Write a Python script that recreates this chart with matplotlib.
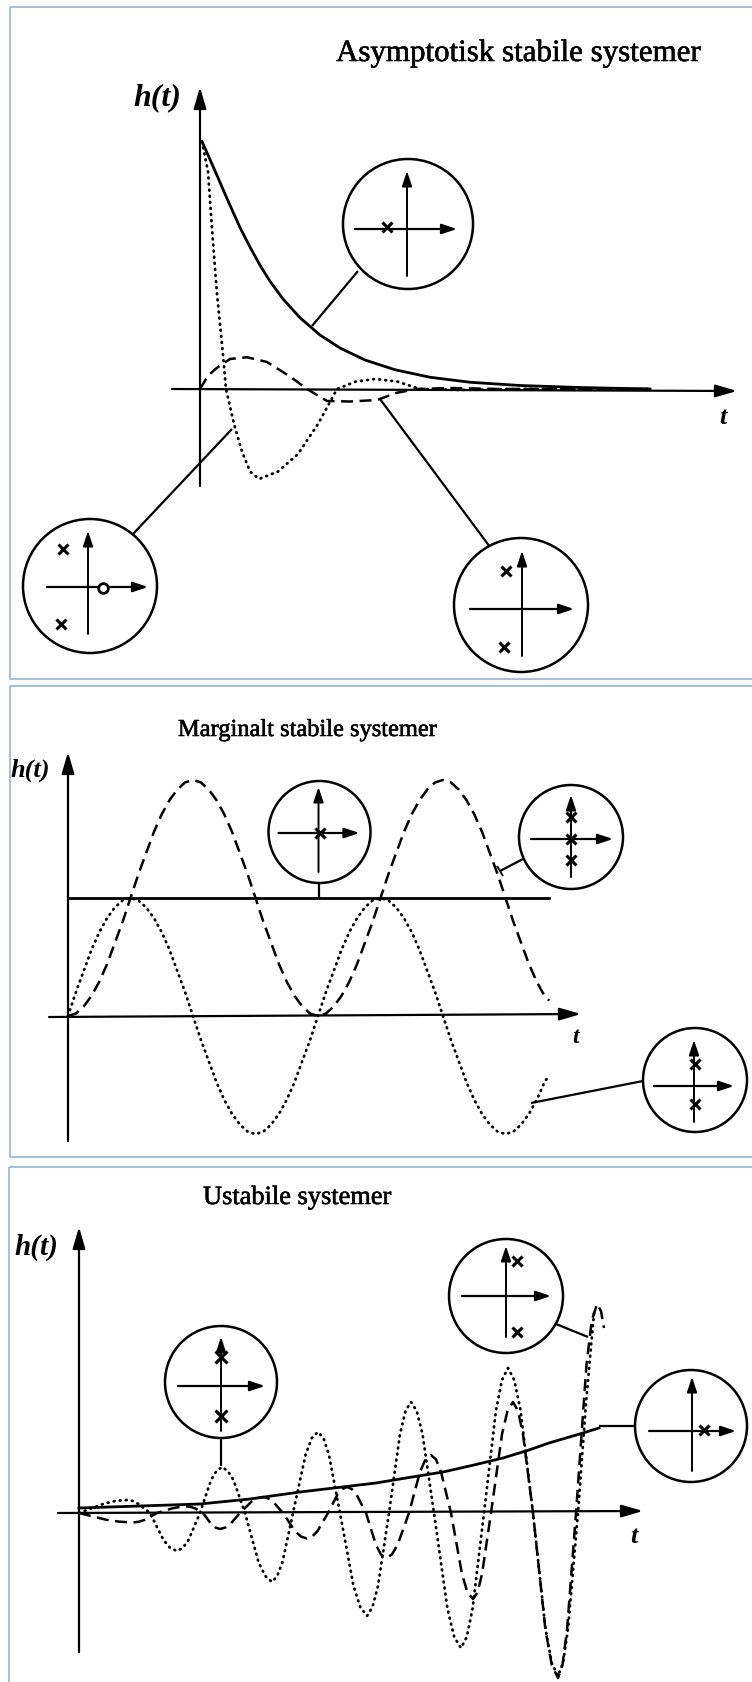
import matplotlib
matplotlib.use("Agg")
import matplotlib.pyplot as plt
import matplotlib.patheffects as pe
from matplotlib.patches import Circle, Rectangle

plt.rcParams['font.family'] = ['Liberation Serif', 'DejaVu Serif']

# --- asymptotically stable: t in units of 50 px, h normalised to peak ---
asym_t_solid = [0.04, 0.2, 0.36, 0.5, 0.66, 0.8, 1.0, 1.2, 1.4, 1.66, 2.0, 2.4,
                2.8, 3.3, 3.9, 4.6, 5.4, 6.4, 7.6, 9.0]
asym_h_solid = [0.99, 0.918, 0.845, 0.78, 0.708, 0.646, 0.568, 0.495, 0.431,
                0.360, 0.285, 0.216, 0.164, 0.116, 0.077, 0.047, 0.027, 0.014,
                0.006, 0.0]
asym_t_dot = [0.04, 0.16, 0.24, 0.34, 0.44, 0.52, 0.68, 0.84, 1.0, 1.18, 1.56,
              1.96, 2.36, 2.74, 3.12, 3.5, 3.94, 4.4, 5.2, 6.4, 9.0]
asym_h_dot = [0.99, 0.87, 0.64, 0.38, 0.18, 0.0, -0.14, -0.25, -0.33, -0.36, -0.33,
              -0.26, -0.14, 0.0, 0.03, 0.04, 0.03, 0.0, -0.004, 0.0, 0.0]
asym_t_dash = [0, 0.16, 0.34, 0.6, 0.94, 1.34, 1.8, 2.14, 2.54, 3.0, 3.54, 3.94,
               4.34, 5.0, 6.0, 9.0]
asym_h_dash = [0, 0.053, 0.085, 0.12, 0.127, 0.108, 0.05, 0.0, -0.048, -0.05,
               -0.044, -0.015, 0.0, 0.004, 0.0, 0.0]

# --- marginally stable: period = 8 units, h in units of the step level ---
marg_t = [0, 0.25, 0.5, 0.75, 1, 1.25, 1.5, 1.75, 2, 2.25, 2.5, 2.75, 3, 3.25,
          3.5, 3.75, 4, 4.25, 4.5, 4.75, 5, 5.25, 5.5, 5.75, 6, 6.25, 6.5, 6.75,
          7, 7.25, 7.5, 7.75, 8, 8.25, 8.5, 8.75, 9, 9.25, 9.5, 9.75, 10, 10.25,
          10.5, 10.75, 11, 11.25, 11.5, 11.75, 12, 12.25, 12.5, 12.75, 13, 13.25,
          13.5, 13.75, 14, 14.25, 14.5, 14.75, 15, 15.25, 15.4]
marg_h_dot = [0, 0.20, 0.38, 0.56, 0.71, 0.83, 0.92, 0.98, 1.0, 0.98, 0.92, 0.83,
              0.71, 0.56, 0.38, 0.20, 0, -0.20, -0.38, -0.56, -0.71, -0.83, -0.92,
              -0.98, -1.0, -0.98, -0.92, -0.83, -0.71, -0.56, -0.38, -0.20, 0,
              0.20, 0.38, 0.56, 0.71, 0.83, 0.92, 0.98, 1.0, 0.98, 0.92, 0.83,
              0.71, 0.56, 0.38, 0.20, 0, -0.20, -0.38, -0.56, -0.71, -0.83, -0.92,
              -0.98, -1.0, -0.98, -0.92, -0.83, -0.71, -0.56, -0.50]
marg_h_dash = [0, 0.02, 0.08, 0.17, 0.29, 0.44, 0.62, 0.80, 1.0, 1.20, 1.38, 1.56,
               1.71, 1.83, 1.92, 1.98, 2.0, 1.98, 1.92, 1.83, 1.71, 1.56, 1.38,
               1.20, 1.0, 0.80, 0.62, 0.44, 0.29, 0.17, 0.08, 0.02, 0, 0.02, 0.08,
               0.17, 0.29, 0.44, 0.62, 0.80, 1.0, 1.20, 1.38, 1.56, 1.71, 1.83,
               1.92, 1.98, 2.0, 1.98, 1.92, 1.83, 1.71, 1.56, 1.38, 1.20, 1.0,
               0.80, 0.62, 0.44, 0.29, 0.17, 0.13]
marg_h_step = [1.0] * len(marg_t)

# --- unstable: t in units of 50 px, h in units of 100 px ---
unst_t_solid = [0, 1.22, 2.42, 3.42, 4.42, 5.94, 6.6, 7.28, 7.9, 8.48, 9.0, 9.4,
                10.08, 10.4]
unst_h_solid = [0.05, 0.07, 0.09, 0.14, 0.21, 0.30, 0.355, 0.41, 0.48, 0.55, 0.63,
                0.70, 0.80, 0.85]
unst_t_dot = [0, 0.48, 0.72, 0.96, 1.075, 1.19, 1.42,
              1.69, 1.825, 1.96, 2.075, 2.19, 2.42,
              2.64, 2.75, 2.86, 2.975, 3.09, 3.32,
              3.59, 3.725, 3.86, 3.965, 4.07, 4.28,
              4.53, 4.655, 4.78, 4.89, 5.0, 5.22,
              5.49, 5.625, 5.76, 5.87, 5.98, 6.2,
              6.42, 6.53, 6.64, 6.755, 6.87, 7.1,
              7.37, 7.505, 7.64, 7.755, 7.87, 8.1,
              8.34, 8.46, 8.58, 8.705, 8.83, 9.08,
              9.33, 9.455, 9.58, 9.68, 9.78, 9.98,
              10.14, 10.3]
unst_h_dot = [0, 0.09, 0.12, 0.13, 0.12, 0.09, 0,
              -0.27, -0.35, -0.38, -0.35, -0.27, 0,
              0.33, 0.42, 0.46, 0.42, 0.33, 0,
              -0.49, -0.63, -0.69, -0.63, -0.49, 0,
              0.58, 0.75, 0.81, 0.75, 0.58, 0,
              -0.73, -0.94, -1.03, -0.94, -0.73, 0,
              0.79, 1.02, 1.11, 1.02, 0.79, 0,
              -0.96, -1.24, -1.35, -1.24, -0.96, 0,
              1.03, 1.33, 1.45, 1.33, 1.03, 0,
              -1.16, -1.50, -1.63, -1.50, -1.16, 0,
              1.10, 2.0]
unst_t_dash = [0, 0.54, 0.81, 1.08, 1.2, 1.32, 1.56,
               1.86, 2.01, 2.16, 2.24, 2.32, 2.48,
               2.65, 2.735, 2.82, 2.92, 3.02, 3.22,
               3.45, 3.565, 3.68, 3.78, 3.88, 4.08,
               4.32, 4.44, 4.56, 4.665, 4.77, 4.98,
               5.17, 5.265, 5.36, 5.455, 5.55, 5.74,
               5.94, 6.04, 6.14, 6.255, 6.37, 6.6,
               6.82, 6.93, 7.04, 7.14, 7.24, 7.44,
               7.66, 7.77, 7.88, 7.97, 8.06, 8.24,
               8.46, 8.57, 8.68, 8.78, 8.88, 9.08,
               9.33, 9.455, 9.58, 9.67, 9.76, 9.94,
               10.15, 10.255, 10.36, 10.44, 10.5]
unst_h_dash = [0, -0.067, -0.087, -0.095, -0.087, -0.067, 0,
               0.046, 0.06, 0.065, 0.06, 0.046, 0,
               -0.114, -0.147, -0.16, -0.147, -0.114, 0,
               0.114, 0.147, 0.16, 0.147, 0.114, 0,
               -0.181, -0.236, -0.255, -0.236, -0.181, 0,
               0.185, 0.24, 0.26, 0.24, 0.185, 0,
               -0.32, -0.416, -0.45, -0.416, -0.32, 0,
               0.412, 0.536, 0.58, 0.536, 0.412, 0,
               -0.611, -0.795, -0.86, -0.795, -0.611, 0,
               0.788, 1.021, 1.11, 1.021, 0.788, 0,
               -1.172, -1.518, -1.65, -1.518, -1.172, 0,
               1.484, 1.923, 2.09, 2.02, 1.85]

titles = ["Asymptotisk stabile systemer", "Marginalt stabile systemer",
          "Ustabile systemer"]

W, H = 752, 1683
fig = plt.figure(figsize=(W / 100, H / 100), dpi=100)

DOT = (0, (0.3, 1.9))
DASH = (0, (4.8, 2.6))
SOLID_LW = 2.0
CURVE_LW = 1.8
DOT_LW = 2.0
INK = [pe.withStroke(linewidth=0.4, foreground='k')]


def curve_axes(x0, y0, sx, sy):
    # full-figure axes whose origin sits at pixel (x0, y0)
    ax = fig.add_axes([0, 0, 1, 1])
    ax.set_xlim(-x0 / sx, (W - x0) / sx)
    ax.set_ylim((y0 - H) / sy, y0 / sy)
    ax.set_axis_off()
    return ax


def draw_curves(ax, solid, dotted, dashed):
    ax.plot(*solid, color='k', lw=SOLID_LW)
    ax.plot(*dotted, color='k', lw=DOT_LW, ls=DOT, dash_capstyle='round')
    ax.plot(*dashed, color='k', lw=CURVE_LW, ls=DASH)


ov = fig.add_axes([0, 0, 1, 1])
ov.set_xlim(0, W)
ov.set_ylim(H, 0)
ov.set_axis_off()
ov.set_zorder(5)


def arrow(x1, y1, x2, y2, hl=1.3, hw=0.38, lw=1.6):
    ov.annotate('', xy=(x2, y2), xytext=(x1, y1),
                arrowprops=dict(arrowstyle=f'-|>,head_length={hl},head_width={hw}',
                                lw=lw, color='k', shrinkA=0, shrinkB=0,
                                mutation_scale=10))


def line(x1, y1, x2, y2, lw=1.6):
    ov.plot([x1, x2], [y1, y2], color='k', lw=lw, solid_capstyle='butt')


def pz(cx, cy, r, hx, vy, poles, zeros=(), dx=0, dy=0, mark=7):
    ov.add_patch(Circle((cx, cy), r, fc='white', ec='k', lw=1.8, zorder=3))
    ax_y = cy + dy
    ax_x = cx + dx
    ov.annotate('', xy=(cx + hx[1], ax_y), xytext=(cx + hx[0], ax_y),
                arrowprops=dict(arrowstyle='-|>,head_length=0.9,head_width=0.3',
                                lw=1.6, color='k', shrinkA=0, shrinkB=0,
                                mutation_scale=10), zorder=4)
    ov.annotate('', xy=(ax_x, cy + vy[1]), xytext=(ax_x, cy + vy[0]),
                arrowprops=dict(arrowstyle='-|>,head_length=0.9,head_width=0.3',
                                lw=1.4, color='k', shrinkA=0, shrinkB=0,
                                mutation_scale=10), zorder=4)
    for px, py in poles:
        ov.plot(cx + px, cy + py, marker='x', ms=mark, mew=2.2, color='k', zorder=5)
    for px, py in zeros:
        ov.plot(cx + px, cy + py, marker='o', ms=7, mew=2.0, mfc='white',
                mec='k', zorder=5)


def border(x, y, h):
    ov.add_patch(Rectangle((x, y), 900, h, fill=False, ec='#98b3d8', lw=1.2))


def label_h(x, y, size):
    ov.text(x, y, 'h(t)', fontsize=size, fontweight='bold', fontstyle='italic',
            ha='center', va='center')


def label_t(x, y, size):
    ov.text(x, y, 't', fontsize=size, fontweight='bold', fontstyle='italic',
            ha='center', va='center')


def title(x, y, s, size):
    ov.text(x, y, s, fontsize=size, ha='left', va='baseline', path_effects=INK)


# ---------------- panel 1 ----------------
border(10, 8, 672)
title(336, 62, titles[0], 22.3)
label_h(157, 98, 23)
arrow(200, 487, 200, 88)
arrow(172, 390, 737, 392)
label_t(723, 418, 19)

a1 = curve_axes(200, 390, 50, 250)
draw_curves(a1, (asym_t_solid, asym_h_solid), (asym_t_dot, asym_h_dot),
            (asym_t_dash, asym_h_dash))

line(312, 327, 358, 272)
pz(408, 225, 65, (-53, 49), (52, -53), [(-21, 3)], dx=-1, dy=5)
line(133, 535, 232, 430)
pz(90, 587, 67, (-43, 58), (48, -55), [(-27, -37), (-29, 38)],
   zeros=[(13, 2)], dx=-2, dy=1)
line(380, 400, 490, 548)
pz(521, 606, 67, (-51, 53), (51, -54), [(-15, -34), (-17, 42)], dx=1, dy=4)

# ---------------- panel 2 ----------------
border(10, 687, 471)
title(178, 737, titles[1], 17.6)
label_h(30, 770, 19)
arrow(68, 1142, 68, 753)
arrow(49, 1018, 581, 1015)
label_t(576, 1038, 17)

a2 = curve_axes(68, 1017, 31.25, 118)
draw_curves(a2, (marg_t, marg_h_step), (marg_t, marg_h_dot), (marg_t, marg_h_dash))

line(319, 884, 319, 899)
pz(319.5, 833, 51, (-41, 40), (40, -45), [(0, 1)], dx=-1, dy=1)
line(523, 860, 500, 872)
line(497, 867, 503, 877, lw=1.3)
pz(571, 838, 52, (-40, 42), (40, -42), [(0, -20), (0, 2), (0, 23)], dy=2, mark=6.5)
line(643, 1082, 531, 1104)
pz(695, 1081, 52, (-41, 39), (42, -40), [(0, -16), (0, 24)], dx=-1, dy=6, mark=6.5)

# ---------------- panel 3 ----------------
border(9, 1168, 600)
title(203, 1205, titles[2], 19)
label_h(36, 1247, 21)
arrow(79, 1653, 79, 1228)
arrow(58, 1514, 643, 1512)
label_t(634, 1537, 19)

a3 = curve_axes(79, 1514, 50, 100)
draw_curves(a3, (unst_t_solid, unst_h_solid), (unst_t_dot, unst_h_dot),
            (unst_t_dash, unst_h_dash))

line(221, 1440, 221, 1467)
pz(221, 1383, 56, (-43, 44), (49, -45), [(0, -25), (0, 34)], dy=4, mark=8)
line(556, 1325, 588, 1338)
pz(506, 1297, 57, (-44, 45), (41, -50), [(11, -35), (11, 36)], mark=6.5)
line(636, 1427, 599, 1427)
pz(691, 1427, 56, (-42, 45), (45, -49), [(13, 4)], dx=1, dy=5, mark=6.5)

fig.savefig('out.png', dpi=100)
